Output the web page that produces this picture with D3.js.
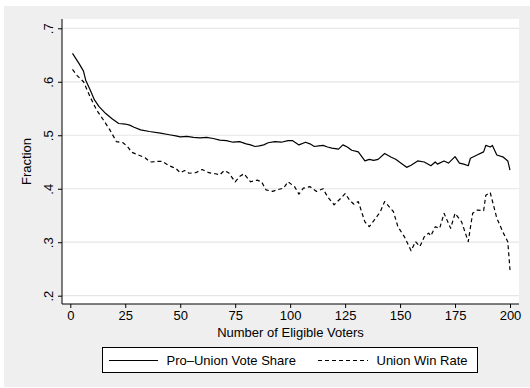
<!DOCTYPE html>
<html>
<head>
<meta charset="utf-8">
<script src="https://cdn.jsdelivr.net/npm/d3@7"></script>
<style>
  html, body { margin: 0; padding: 0; background: #ffffff; }
  svg { display: block; font-family: "Liberation Sans", Arial, Helvetica, sans-serif; }
</style>
</head>
<body>
<svg id="chart" width="530" height="388"></svg>
<script>
// Pro-union vote share by number of eligible voters
const shareVoters = [1,4,6,7,9,11,13,16,19,22,25,27,29,32,36,41,45,48,50,53,56,59,62,65,68,71,74,77,80,82,84,86,88,90,93,96,99,101,104,107,109,111,113,115,117,119,122,124,126,128,131,134,136,138,140,143,146,148,150,153,155,158,161,164,166,167,170,172,175,177,179,181,182,185,188,189,191,192,194,197,199,200];
const shareValues = [.653,.634,.620,.603,.585,.566,.554,.541,.531,.522,.521,.519,.515,.510,.507,.504,.501,.499,.497,.498,.496,.495,.496,.494,.491,.490,.487,.488,.484,.482,.479,.480,.482,.486,.488,.487,.490,.490,.482,.487,.484,.479,.480,.481,.478,.476,.474,.482,.478,.472,.469,.452,.455,.453,.455,.466,.459,.455,.449,.440,.444,.452,.450,.443,.450,.446,.452,.448,.460,.448,.446,.443,.457,.463,.469,.481,.478,.481,.463,.459,.452,.435];

// Union win rate by number of eligible voters
const winVoters = [1,3,6,9,12,15,18,21,24,26,28,31,34,36,37,39,42,45,48,50,52,54,57,60,63,66,68,70,72,75,77,79,82,85,87,89,92,94,97,99,102,104,106,109,112,115,117,120,123,125,127,129,131,134,136,138,140,141,143,147,149,152,155,157,159,161,163,164,166,168,170,173,175,178,181,183,185,188,189,191,194,197,199,200];
const winValues = [.623,.612,.600,.572,.547,.529,.510,.488,.486,.479,.468,.463,.458,.451,.450,.451,.451,.443,.438,.430,.434,.429,.430,.436,.430,.428,.426,.434,.430,.413,.423,.428,.413,.416,.413,.398,.395,.398,.401,.413,.404,.390,.401,.404,.395,.400,.385,.370,.382,.391,.379,.371,.376,.338,.329,.340,.351,.357,.376,.357,.329,.310,.284,.301,.292,.310,.317,.312,.329,.326,.354,.326,.354,.338,.301,.354,.360,.359,.388,.393,.345,.317,.301,.248];

const yTicks = [0.2, 0.3, 0.4, 0.5, 0.6, 0.7];
const xTicks = [0, 25, 50, 75, 100, 125, 150, 175, 200];
const seriesNames = ["Pro\u2013Union Vote Share", "Union Win Rate"];

const svg = d3.select("#chart");

// outer graph region
svg.append("rect").attr("x", 4).attr("y", 6).attr("width", 526).attr("height", 381)
  .attr("fill", "#efefef");

// plot region
const plot = { left: 62, right: 519, top: 19, bottom: 304 };
svg.append("rect").attr("x", plot.left).attr("y", plot.top)
  .attr("width", plot.right - plot.left).attr("height", plot.bottom - plot.top)
  .attr("fill", "#ffffff");

const x = d3.scaleLinear().domain([0, 200]).range([70.3, 510]);
const y = d3.scaleLinear().domain([0.2, 0.7]).range([295.7, 28.3]);

// horizontal grid lines
svg.append("g").selectAll("line").data(yTicks).join("line")
  .attr("x1", plot.left).attr("x2", plot.right)
  .attr("y1", d => y(d)).attr("y2", d => y(d))
  .attr("stroke", "#e6e6e6").attr("stroke-width", 1.2);

// y axis
const fmt = d => d3.format(".1f")(d).replace(/^0/, "");
const yAxis = svg.append("g").attr("transform", `translate(${plot.left},0)`)
  .call(d3.axisLeft(y).tickValues(yTicks).tickFormat(fmt).tickSize(4).tickPadding(0));
yAxis.select(".domain").attr("d", `M0,${plot.top}V${plot.bottom}`).attr("stroke", "#000");
yAxis.selectAll(".tick line").attr("stroke", "#000");
yAxis.selectAll(".tick text")
  .attr("font-size", 13).attr("fill", "#000")
  .attr("text-anchor", "middle")
  .attr("x", 0).attr("dy", null)
  .attr("transform", "translate(-9,0) rotate(-90)");

// x axis
const xAxis = svg.append("g").attr("transform", `translate(0,${plot.bottom})`)
  .call(d3.axisBottom(x).tickValues(xTicks).tickSize(4).tickPadding(3));
xAxis.select(".domain").attr("d", `M${plot.left},0H${plot.right}`).attr("stroke", "#000");
xAxis.selectAll(".tick line").attr("stroke", "#000");
xAxis.selectAll(".tick text").attr("font-size", 13).attr("fill", "#000");

// axis titles
svg.append("text").attr("x", 290.5).attr("y", 337).attr("text-anchor", "middle")
  .attr("font-size", 13).attr("fill", "#000").text("Number of Eligible Voters");
svg.append("text").attr("transform", "translate(31,161.5) rotate(-90)")
  .attr("text-anchor", "middle").attr("font-size", 13).attr("fill", "#000").text("Fraction");

// series lines
const line = d3.line().x(d => x(d[0])).y(d => y(d[1]));
const shareData = shareVoters.map((v, i) => [v, shareValues[i]]);
const winData = winVoters.map((v, i) => [v, winValues[i]]);

svg.append("path").datum(shareData).attr("d", line)
  .attr("fill", "none").attr("stroke", "#000").attr("stroke-width", 1.2)
  .attr("stroke-linejoin", "round");
svg.append("path").datum(winData).attr("d", line)
  .attr("fill", "none").attr("stroke", "#000").attr("stroke-width", 1.2)
  .attr("stroke-dasharray", "4,3").attr("stroke-linejoin", "round");

// legend
const legend = svg.append("g");
legend.append("rect").attr("x", 102.5).attr("y", 347.5).attr("width", 375).attr("height", 25)
  .attr("fill", "#ffffff").attr("stroke", "#000").attr("stroke-width", 1);
legend.append("line").attr("x1", 109).attr("x2", 158).attr("y1", 360.5).attr("y2", 360.5)
  .attr("stroke", "#000").attr("stroke-width", 1.2);
legend.append("text").attr("x", 166.5).attr("y", 365).attr("font-size", 13).attr("fill", "#000")
  .text(seriesNames[0]);
legend.append("line").attr("x1", 318).attr("x2", 368).attr("y1", 360.5).attr("y2", 360.5)
  .attr("stroke", "#000").attr("stroke-width", 1.2).attr("stroke-dasharray", "4,3");
legend.append("text").attr("x", 376.5).attr("y", 365).attr("font-size", 13).attr("fill", "#000")
  .text(seriesNames[1]);
</script>
</body>
</html>
